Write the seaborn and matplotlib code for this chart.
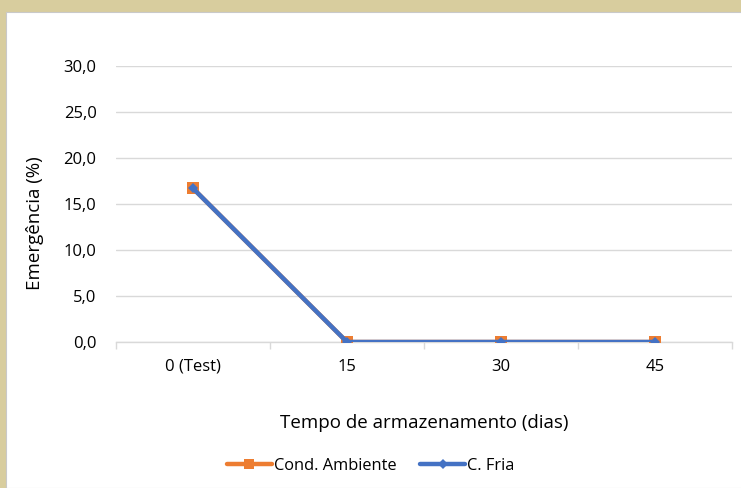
import matplotlib
matplotlib.use("Agg")
import matplotlib.pyplot as plt
import matplotlib.patches as mpatches
from matplotlib.ticker import FixedLocator, FuncFormatter
import seaborn as sns
import pandas as pd

# Storage time (days) and emergence (%) under each storage condition
tempos = ["0 (Test)", "15", "30", "45"]
cond_ambiente = [16.7, 0.0, 0.0, 0.0]
c_fria = [16.7, 0.0, 0.0, 0.0]
series_names = ["Cond. Ambiente", "C. Fria"]
y_ticks = [0, 5, 10, 15, 20, 25, 30]

df = pd.DataFrame({
    "Tempo": tempos * 2,
    "Emergencia": cond_ambiente + c_fria,
    "Serie": [series_names[0]] * len(tempos) + [series_names[1]] * len(tempos),
})

sns.set_theme(style="white")
plt.rcParams["font.family"] = ["Open Sans", "DejaVu Sans"]

fig = plt.figure(figsize=(7.41, 4.88), dpi=100)
fig.patch.set_facecolor("#D8CD9E")
# white chart area inside the tan frame
fig.patches.append(mpatches.Rectangle((6 / 741, 0), 1, 1 - 12 / 488,
                                      transform=fig.transFigure,
                                      facecolor="white", edgecolor="#C9C9C9",
                                      linewidth=0.8, zorder=-10))

ax = fig.add_axes([116 / 741, 1 - 342 / 488, (732 - 116) / 741, (342 - 66) / 488])
ax.set_facecolor("none")

orange = "#ED7D31"
blue = "#4472C4"
sns.lineplot(data=df, x="Tempo", y="Emergencia", hue="Serie", style="Serie",
             markers={series_names[0]: "s", series_names[1]: "D"},
             dashes=False, palette={series_names[0]: orange, series_names[1]: blue},
             ax=ax, linewidth=3.2, markersize=7, markeredgewidth=0, sort=False,
             legend=False, zorder=3)
lines = ax.get_lines()
lines[0].set_markersize(8.5)
lines[1].set_markersize(5.5)

ax.set_xlim(-0.5, len(tempos) - 0.5)
ax.set_ylim(0, 30)
ax.yaxis.set_major_locator(FixedLocator(y_ticks))
ax.yaxis.set_major_formatter(FuncFormatter(lambda v, p: f"{v:.1f}".replace(".", ",")))
ax.grid(axis="y", color="#D9D9D9", linewidth=1)
ax.set_axisbelow(True)

for s in ["top", "right", "left"]:
    ax.spines[s].set_visible(False)
ax.spines["bottom"].set_color("#D9D9D9")
ax.spines["bottom"].set_linewidth(1)

ax.set_xticks(range(len(tempos)))
ax.set_xticklabels(tempos)
ax.xaxis.set_minor_locator(FixedLocator([i - 0.5 for i in range(len(tempos) + 1)]))
ax.tick_params(axis="x", which="major", length=0, pad=12, labelsize=12, colors="#000000")
ax.tick_params(axis="x", which="minor", length=5, width=1, color="#D9D9D9", bottom=True)
ax.tick_params(axis="y", length=0, pad=14, labelsize=12, colors="#000000")

ax.set_xlabel("Tempo de armazenamento (dias)", fontsize=13.5, labelpad=28, color="#000000")
ax.set_ylabel("Emergência (%)", fontsize=13.5, color="#000000")
ax.yaxis.set_label_coords(-0.117, 0.43)

handles = [plt.Line2D([], [], color=orange, lw=3.2, marker="s", markersize=7.5, markeredgewidth=0),
           plt.Line2D([], [], color=blue, lw=3.2, marker="D", markersize=5.5, markeredgewidth=0)]
fig.legend(handles, series_names, loc="center", bbox_to_anchor=(0.5, 1 - 466 / 488),
           ncol=2, frameon=False, fontsize=11.8, handlelength=2.8, handletextpad=0.1,
           columnspacing=1.4, labelcolor="#000000")

fig.savefig("out.png", dpi=100, facecolor=fig.get_facecolor())
